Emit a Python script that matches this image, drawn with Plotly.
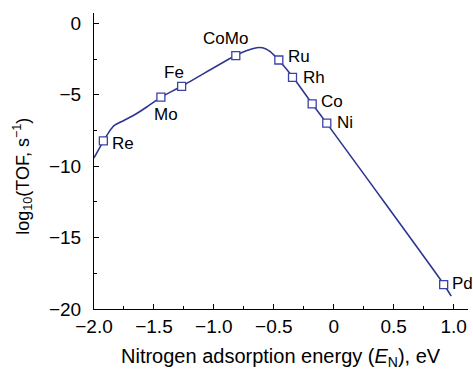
import plotly.graph_objects as go

# Volcano curve: log10 of turnover frequency vs nitrogen adsorption energy
curve_e = [-2.0, -1.92, -1.87, -1.83, -1.75, -1.65, -1.55, -1.44, -1.27,
           -0.82, -0.73, -0.67, -0.62, -0.57, -0.53, -0.46, -0.34, -0.18,
           -0.06, 0.92, 0.98]
curve_tof = [-9.42, -8.23, -7.55, -7.15, -6.8, -6.35, -5.8, -5.17, -4.41,
             -2.26, -1.92, -1.76, -1.7, -1.78, -1.99, -2.57, -3.78, -5.64,
             -6.99, -18.3, -19.1]

# Metals placed on the curve
metals = ["Re", "Mo", "Fe", "CoMo", "Ru", "Rh", "Co", "Ni", "Pd"]
metal_e = [-1.922, -1.442, -1.269, -0.817, -0.458, -0.344, -0.18, -0.058, 0.917]
metal_tof = [-8.23, -5.17, -4.41, -2.26, -2.57, -3.78, -5.64, -6.99, -18.3]

x_ticks = [-2.0, -1.5, -1.0, -0.5, 0.0, 0.5, 1.0]
x_tick_text = ["\u22122.0", "\u22121.5", "\u22121.0", "\u22120.5", "0", "0.5", "1.0"]
y_ticks = [0, -5, -10, -15, -20]
y_tick_text = ["0", "\u22125", "\u221210", "\u221215", "\u221220"]

# label placement relative to each marker (pixels)
label_pos = {
    "Re": (7, -3, "left"),
    "Mo": (5, -17, "center"),
    "Fe": (-8, 14, "center"),
    "CoMo": (-10, 17, "center"),
    "Ru": (7, 4, "left"),
    "Rh": (8, 0, "left"),
    "Co": (7, 2, "left"),
    "Ni": (8, 1, "left"),
    "Pd": (6, 1, "left"),
}

LINE = "#2E3590"
FONT = "Liberation Sans, Arial, sans-serif"

fig = go.Figure()
fig.add_trace(go.Scatter(
    x=curve_e, y=curve_tof, mode="lines",
    line=dict(color=LINE, width=1.6, shape="spline", smoothing=0.6),
    hoverinfo="skip", cliponaxis=False,
))
fig.add_trace(go.Scatter(
    x=metal_e, y=metal_tof, mode="markers",
    marker=dict(symbol="square", size=8, color="white",
                line=dict(color="#3A42A8", width=1.3)),
    cliponaxis=False, text=metals,
))

for name, e, t in zip(metals, metal_e, metal_tof):
    dx, dy, anchor = label_pos[name]
    fig.add_annotation(x=e, y=t, xref="x", yref="y", text=name,
                       showarrow=False, xanchor=anchor, yanchor="middle",
                       xshift=dx, yshift=dy,
                       font=dict(family=FONT, size=17, color="black"))

# axis titles
fig.add_annotation(x=0.5, y=-0.165, xref="paper", yref="paper",
                   text="Nitrogen adsorption energy (<i>E</i><sub>N</sub>), eV",
                   showarrow=False, xanchor="center", yanchor="middle",
                   font=dict(family=FONT, size=20, color="black"))
fig.add_annotation(x=-0.19, y=0.45, xref="paper", yref="paper",
                   text="log<sub>10</sub>(TOF, s<sup>\u22121</sup>)",
                   textangle=-90, showarrow=False,
                   xanchor="center", yanchor="middle",
                   font=dict(family=FONT, size=18, color="black"))

axis_common = dict(
    showgrid=False, zeroline=False, showline=True, linecolor="black",
    linewidth=1, ticks="inside", ticklen=5, tickwidth=1, tickcolor="black",
    tickfont=dict(family=FONT, size=19, color="black"),
)

fig.update_xaxes(
    range=[-2.0, 1.12], tickvals=x_ticks, ticktext=x_tick_text,
    minor=dict(ticks="inside", ticklen=3, dtick=0.25, tick0=-2.0,
               tickcolor="black", showgrid=False),
    **axis_common,
)
fig.update_yaxes(
    range=[-20, 0.72], tickvals=y_ticks, ticktext=y_tick_text,
    ticklabelstandoff=8,
    minor=dict(ticks="inside", ticklen=3, dtick=2.5, tick0=0,
               tickcolor="black", showgrid=False),
    **axis_common,
)

fig.update_layout(
    width=473, height=369,
    margin=dict(l=94, r=5, t=13, b=60),
    paper_bgcolor="white", plot_bgcolor="white",
    showlegend=False,
)

fig.write_html("out.html")
